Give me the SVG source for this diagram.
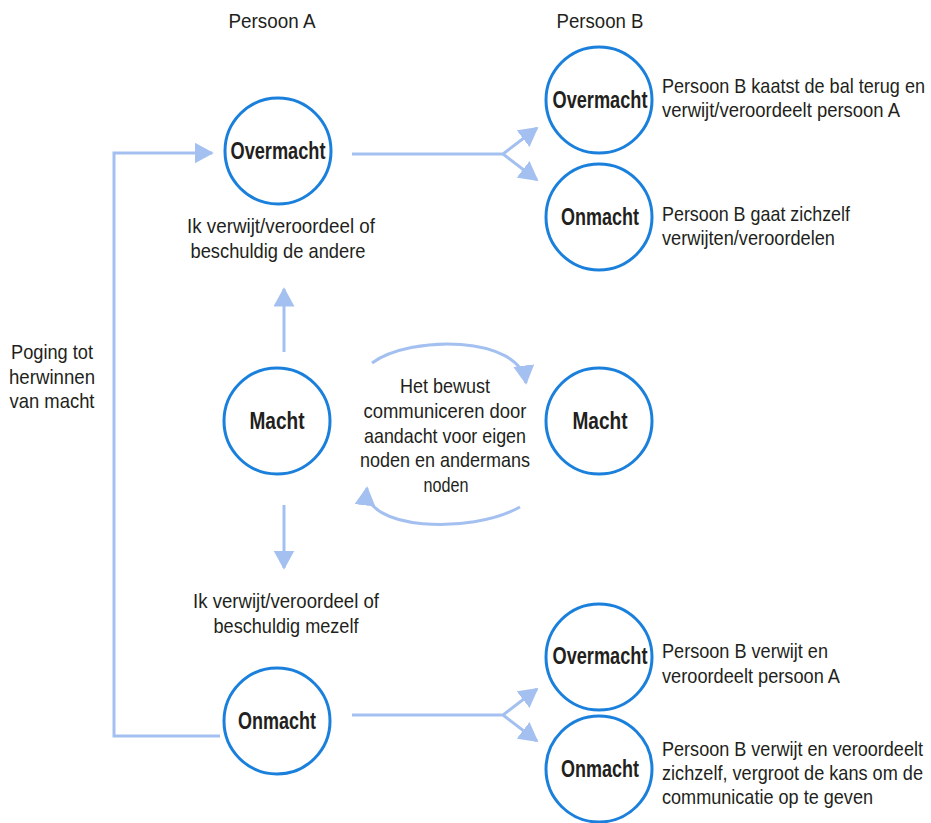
<svg xmlns="http://www.w3.org/2000/svg" width="931" height="823" viewBox="0 0 931 823">
<defs>
<style>
.c{fill:#fff;stroke:#1a80dc;stroke-width:3}
.ln{fill:none;stroke:#a3c0f0;stroke-width:3}
.t{font-family:"Liberation Sans",Arial,sans-serif;font-size:21px;fill:#231f20}
.b{font-weight:bold;font-size:23px}
.m{text-anchor:middle}
</style>
<marker id="ah" viewBox="0 0 12 12" refX="10" refY="6" markerWidth="7" markerHeight="7" markerUnits="strokeWidth" orient="auto">
<path d="M0,0 L11,6 L0,12 Z" fill="#a3c0f0"/>
</marker>
</defs>
<rect width="931" height="823" fill="#fff"/>
<text class="t m" x="272" y="28" textLength="87" lengthAdjust="spacingAndGlyphs">Persoon A</text>
<text class="t m" x="600" y="28" textLength="87" lengthAdjust="spacingAndGlyphs">Persoon B</text>
<g id="connectors">
<path class="ln" d="M352,154 H503 L537,128" marker-end="url(#ah)"/>
<path class="ln" d="M503,154 L537,180" marker-end="url(#ah)"/>
<path class="ln" d="M352,715 H503 L537,689" marker-end="url(#ah)"/>
<path class="ln" d="M503,715 L537,741" marker-end="url(#ah)"/>
<path class="ln" d="M284,352 V289" marker-end="url(#ah)"/>
<path class="ln" d="M284,505 V568" marker-end="url(#ah)"/>
<path class="ln" d="M220,736 H114 V153 H212" marker-end="url(#ah)"/>
<path class="ln" d="M372,363 C410,335 520,335 526,383" marker-end="url(#ah)"/>
<path class="ln" d="M520,507 C470,535 362,530 367,488" marker-end="url(#ah)"/>
</g>
<g id="a-overmacht"><circle class="c" cx="278" cy="151" r="53"/><text class="t b m" x="278" y="159" textLength="95" lengthAdjust="spacingAndGlyphs">Overmacht</text></g>
<g id="a-macht"><circle class="c" cx="277" cy="421" r="53"/><text class="t b m" x="277" y="429" textLength="55" lengthAdjust="spacingAndGlyphs">Macht</text></g>
<g id="a-onmacht"><circle class="c" cx="277" cy="721" r="53"/><text class="t b m" x="277" y="729" textLength="78" lengthAdjust="spacingAndGlyphs">Onmacht</text></g>
<g id="b-overmacht-1"><circle class="c" cx="599" cy="100" r="53"/><text class="t b m" x="600" y="108" textLength="95" lengthAdjust="spacingAndGlyphs">Overmacht</text></g>
<g id="b-onmacht-1"><circle class="c" cx="599" cy="217" r="53"/><text class="t b m" x="600" y="225" textLength="78" lengthAdjust="spacingAndGlyphs">Onmacht</text></g>
<g id="b-macht"><circle class="c" cx="599" cy="421" r="53"/><text class="t b m" x="600" y="429" textLength="55" lengthAdjust="spacingAndGlyphs">Macht</text></g>
<g id="b-overmacht-2"><circle class="c" cx="599" cy="657" r="53"/><text class="t b m" x="600" y="664" textLength="95" lengthAdjust="spacingAndGlyphs">Overmacht</text></g>
<g id="b-onmacht-2"><circle class="c" cx="599" cy="769" r="53"/><text class="t b m" x="600" y="777" textLength="78" lengthAdjust="spacingAndGlyphs">Onmacht</text></g>
<g id="labels">
<text class="t m" x="281" y="233" textLength="188" lengthAdjust="spacingAndGlyphs">Ik verwijt/veroordeel of</text>
<text class="t m" x="278" y="258" textLength="175" lengthAdjust="spacingAndGlyphs">beschuldig de andere</text>
<text class="t m" x="286" y="608" textLength="186" lengthAdjust="spacingAndGlyphs">Ik verwijt/veroordeel of</text>
<text class="t m" x="286" y="633" textLength="145" lengthAdjust="spacingAndGlyphs">beschuldig mezelf</text>
<text class="t m" x="52" y="359" textLength="82" lengthAdjust="spacingAndGlyphs">Poging tot</text>
<text class="t m" x="52" y="384" textLength="86" lengthAdjust="spacingAndGlyphs">herwinnen</text>
<text class="t m" x="52" y="408" textLength="85" lengthAdjust="spacingAndGlyphs">van macht</text>
<text class="t m" x="445" y="393" textLength="90" lengthAdjust="spacingAndGlyphs">Het bewust</text>
<text class="t m" x="445" y="418" textLength="163" lengthAdjust="spacingAndGlyphs">communiceren door</text>
<text class="t m" x="445" y="443" textLength="162" lengthAdjust="spacingAndGlyphs">aandacht voor eigen</text>
<text class="t m" x="445" y="467" textLength="170" lengthAdjust="spacingAndGlyphs">noden en andermans</text>
<text class="t m" x="446" y="492" textLength="45" lengthAdjust="spacingAndGlyphs">noden</text>
<text class="t" x="662" y="93" textLength="263" lengthAdjust="spacingAndGlyphs">Persoon B kaatst de bal terug en</text>
<text class="t" x="662" y="117" textLength="238" lengthAdjust="spacingAndGlyphs">verwijt/veroordeelt persoon A</text>
<text class="t" x="662" y="221" textLength="188" lengthAdjust="spacingAndGlyphs">Persoon B gaat zichzelf</text>
<text class="t" x="662" y="245" textLength="173" lengthAdjust="spacingAndGlyphs">verwijten/veroordelen</text>
<text class="t" x="662" y="658" textLength="166" lengthAdjust="spacingAndGlyphs">Persoon B verwijt en</text>
<text class="t" x="662" y="683" textLength="178" lengthAdjust="spacingAndGlyphs">veroordeelt persoon A</text>
<text class="t" x="662" y="756" textLength="261" lengthAdjust="spacingAndGlyphs">Persoon B verwijt en veroordeelt</text>
<text class="t" x="662" y="780" textLength="261" lengthAdjust="spacingAndGlyphs">zichzelf, vergroot de kans om de</text>
<text class="t" x="662" y="804" textLength="211" lengthAdjust="spacingAndGlyphs">communicatie op te geven</text>
</g>
</svg>
